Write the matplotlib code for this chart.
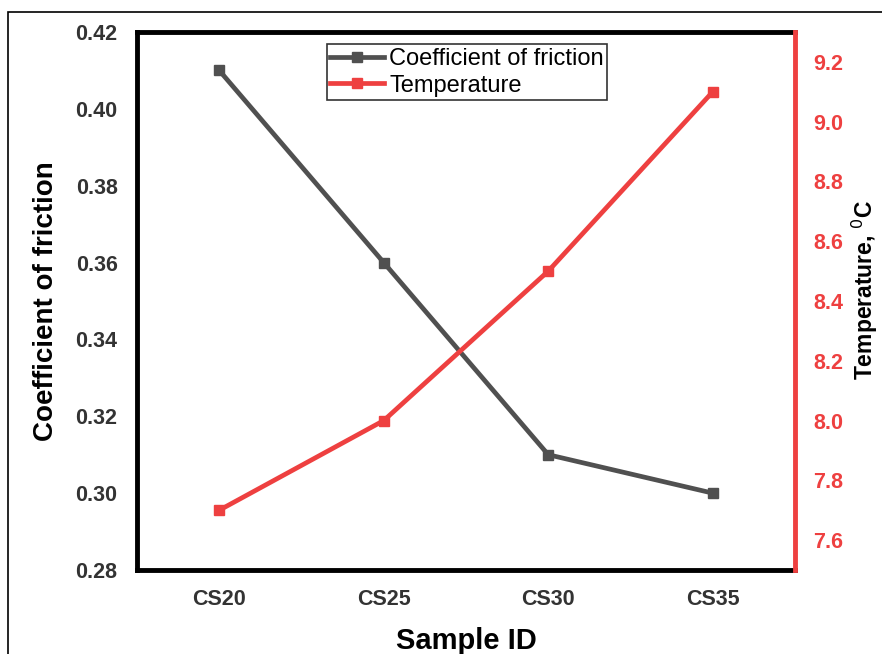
import numpy as np
import matplotlib.pyplot as plt
from matplotlib.patches import Rectangle

samples = ['CS20', 'CS25', 'CS30', 'CS35']
friction = [0.41, 0.36, 0.31, 0.30]
temperature = [7.7, 8.0, 8.5, 9.1]

grey = '#505050'
red = '#ee4040'

plt.rcParams['font.family'] = ['Liberation Sans', 'DejaVu Sans']

fig = plt.figure(figsize=(8.82, 6.54), dpi=100)
# thin outer frame like the pasted figure
fig.patches.append(Rectangle((8 / 882, -0.1), 1.2, 1 - 12 / 654 + 0.1,
                             transform=fig.transFigure, fill=False,
                             edgecolor='black', linewidth=1.2))

ax = fig.add_axes([137 / 882, 1 - 570 / 654, 658 / 882, 538 / 654])
x = np.arange(len(samples))

l1, = ax.plot(x, friction, color=grey, lw=3.4, marker='s', ms=7,
              label='Coefficient of friction')
ax.set_xlim(-0.5, 3.5)
ax.set_ylim(0.28, 0.42)
ax.set_yticks(np.arange(0.28, 0.4201, 0.02))
ax.yaxis.set_major_formatter(plt.FormatStrFormatter('%.2f'))
ax.set_xticks(x)
ax.set_xticklabels(samples)
ax.tick_params(length=0, labelsize=15.5, labelcolor='#333333', pad=14)
ax.tick_params(axis='y', pad=14)
for lbl in ax.get_xticklabels() + ax.get_yticklabels():
    lbl.set_fontweight('bold')
ax.set_ylabel('Coefficient of friction', fontsize=20, fontweight='bold', labelpad=12)
ax.set_xlabel('Sample ID', fontsize=21, fontweight='bold', labelpad=12)
for s in ['left', 'bottom', 'top']:
    ax.spines[s].set_linewidth(3.5)
ax.spines['right'].set_visible(False)

ax2 = ax.twinx()
l2, = ax2.plot(x, temperature, color=red, lw=3.4, marker='s', ms=7,
               label='Temperature')
ax2.set_ylim(7.5, 9.3)
ax2.set_yticks(np.arange(7.6, 9.21, 0.2))
ax2.yaxis.set_major_formatter(plt.FormatStrFormatter('%.1f'))
ax2.tick_params(length=0, labelsize=15.5, labelcolor=red, pad=13)
for lbl in ax2.get_yticklabels():
    lbl.set_fontweight('bold')
ax2.spines['right'].set_color(red)
ax2.spines['right'].set_linewidth(3.5)
for s in ['left', 'bottom', 'top']:
    ax2.spines[s].set_visible(False)
ax2.set_ylabel('Temperature, $^0$C', fontsize=16.5, fontweight='bold',
               rotation=90)
ax2.yaxis.set_label_coords(1.083, 0.52)

leg = ax.legend(handles=[l1, l2], loc='upper left', bbox_to_anchor=(0.288, 0.977),
                fontsize=17, frameon=True, fancybox=False, edgecolor='black',
                borderpad=0.15, handlelength=2.3, handletextpad=0.2,
                labelspacing=0.2, borderaxespad=0)
leg.get_frame().set_linewidth(1.2)

fig.savefig('out.png', dpi=100)
